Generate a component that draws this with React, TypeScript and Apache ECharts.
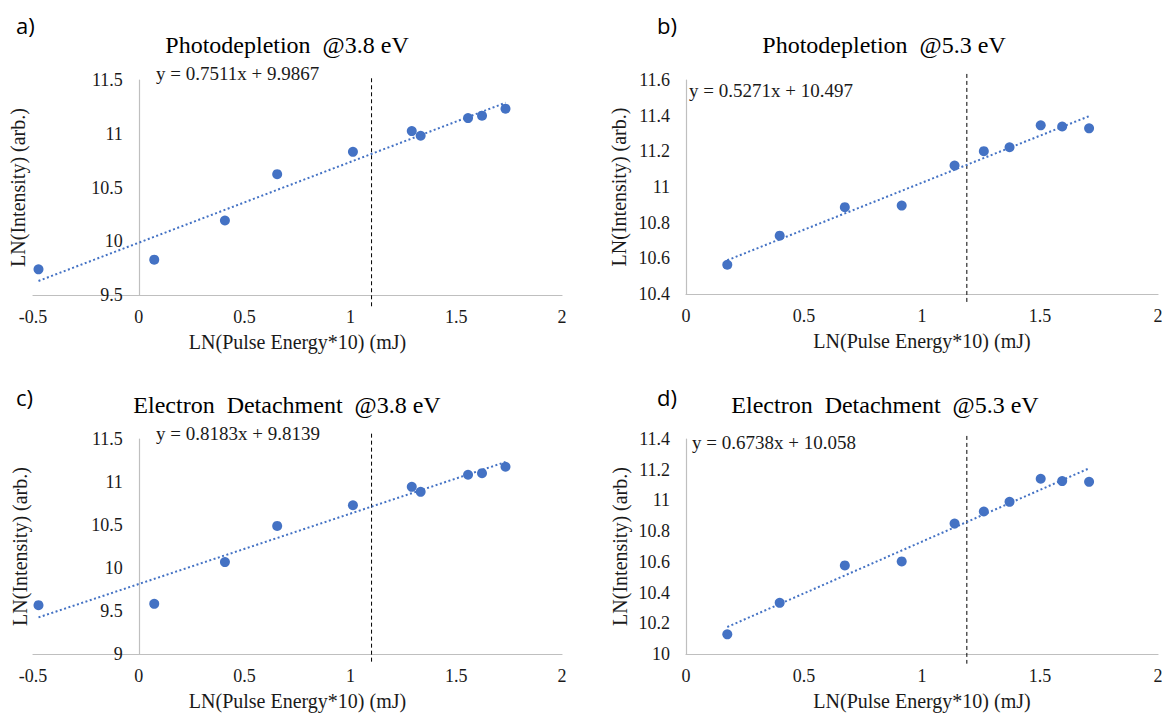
import React, { useEffect, useRef } from "react";
import * as echarts from "echarts";

// ---- data ----
const panelLetters = ["a)", "b)", "c)", "d)"];
const panelTitles = [
  "Photodepletion  @3.8 eV",
  "Photodepletion  @5.3 eV",
  "Electron  Detachment  @3.8 eV",
  "Electron  Detachment  @5.3 eV",
];
const xLabelName = "LN(Pulse Energy*10) (mJ)";
const yLabelName = "LN(Intensity) (arb.)";

const energy38 = [-0.474, 0.073, 0.407, 0.654, 1.012, 1.29, 1.332, 1.556, 1.622, 1.733];
const energy53 = [0.175, 0.397, 0.673, 0.914, 1.138, 1.262, 1.371, 1.503, 1.594, 1.708];

const intensityA = [9.739, 9.829, 10.193, 10.624, 10.832, 11.025, 10.981, 11.146, 11.168, 11.233];
const intensityB = [10.564, 10.727, 10.887, 10.896, 11.12, 11.201, 11.223, 11.346, 11.339, 11.329];
const intensityC = [9.568, 9.583, 10.069, 10.489, 10.73, 10.944, 10.886, 11.084, 11.103, 11.177];
const intensityD = [10.128, 10.333, 10.577, 10.603, 10.849, 10.928, 10.991, 11.141, 11.126, 11.121];

const fitSlopes = [0.7511, 0.5271, 0.8183, 0.6738];
const fitIntercepts = [9.9867, 10.497, 9.8139, 10.058];
const fitLabels = [
  "y = 0.7511x + 9.9867",
  "y = 0.5271x + 10.497",
  "y = 0.8183x + 9.8139",
  "y = 0.6738x + 10.058",
];

const cutoffX = [1.1, 1.19, 1.1, 1.19];
const cutoffTop = [11.516, 11.634, 11.562, 11.42];
const cutoffBottom = [9.39, 10.34, 8.887, 9.937];

const xMins = [-0.5, 0, -0.5, 0];
const xMaxs = [2, 2, 2, 2];
const xIntervals = [0.5, 0.5, 0.5, 0.5];
const yMins = [9.5, 10.4, 9, 10];
const yMaxs = [11.5, 11.6, 11.5, 11.4];
const yIntervals = [0.5, 0.2, 0.5, 0.2];

// ---- layout ----
const grids = [
  { left: 33, top: 80, width: 529, height: 215 },
  { left: 686, top: 80, width: 472, height: 214 },
  { left: 33, top: 439, width: 529, height: 215 },
  { left: 686, top: 439, width: 472, height: 215 },
];
const letterPos = [
  [16, 25],
  [657, 25],
  [16, 397],
  [657, 397],
];
const titlePos = [
  [287, 45],
  [884, 45],
  [287, 405],
  [885, 405],
];
const eqPos = [
  [156, 73],
  [689, 90],
  [156, 433],
  [692, 442],
];
const yNameCenterX = [18, 619, 20, 620];

const SERIF = "Liberation Serif";
const BLUE = "#4472C4";
const TEXT = "#1a1a1a";

export default function App() {
  const ref = useRef<HTMLDivElement>(null);

  useEffect(() => {
    if (!ref.current) return;
    const chart = echarts.init(ref.current, undefined, { renderer: "svg" });

    const xs = [energy38, energy53, energy38, energy53];
    const ys = [intensityA, intensityB, intensityC, intensityD];

    const gridOpts: any[] = grids.map((g) => ({ ...g, containLabel: false, outerBoundsMode: "none" }));
    const xAxes: any[] = [];
    const yAxes: any[] = [];
    const series: any[] = [];
    const graphics: any[] = [];
    const mainX: number[] = [];
    const mainY: number[] = [];

    const labelStyle = { fontFamily: SERIF, fontSize: 18, color: TEXT };
    const nameStyle = { fontFamily: SERIF, fontSize: 20, color: TEXT };
    const axisLineStyle = { color: "#bfbfbf", width: 1.2 };

    for (let i = 0; i < 4; i++) {
      const g = grids[i];
      // where x = 0 sits inside the plot (the vertical axis crosses there)
      const zeroFrac = (0 - xMins[i]) / (xMaxs[i] - xMins[i]);
      const crossesInside = zeroFrac > 0;

      mainX[i] = xAxes.length;
      xAxes.push({
        type: "value",
        gridIndex: i,
        min: xMins[i],
        max: xMaxs[i],
        interval: xIntervals[i],
        name: xLabelName,
        nameLocation: "middle",
        nameGap: 37,
        nameTextStyle: nameStyle,
        axisLine: { show: true, onZero: false, lineStyle: axisLineStyle },
        axisTick: { show: false },
        splitLine: { show: false },
        axisLabel: { ...labelStyle, margin: 13 },
      });

      const visibleY = {
        type: "value",
        min: yMins[i],
        max: yMaxs[i],
        interval: yIntervals[i],
        name: yLabelName,
        nameLocation: "middle",
        nameTextStyle: nameStyle,
        axisLine: { show: true, onZero: false, lineStyle: axisLineStyle },
        axisTick: { show: false },
        splitLine: { show: false },
        axisLabel: { ...labelStyle, margin: 16 },
      };

      if (crossesInside) {
        mainY[i] = yAxes.length;
        yAxes.push({
          type: "value",
          gridIndex: i,
          min: yMins[i],
          max: yMaxs[i],
          interval: yIntervals[i],
          axisLine: { show: false },
          axisTick: { show: false },
          splitLine: { show: false },
          axisLabel: { show: false },
        });
        // overlay grid starting at x = 0, holding the visible vertical axis
        const ovLeft = g.left + zeroFrac * g.width;
        gridOpts.push({
          left: ovLeft,
          top: g.top,
          width: g.left + g.width - ovLeft,
          height: g.height,
          containLabel: false,
          outerBoundsMode: "none",
        });
        const ovIndex = gridOpts.length - 1;
        xAxes.push({ type: "value", gridIndex: ovIndex, min: 0, max: xMaxs[i], show: false });
        yAxes.push({ ...visibleY, gridIndex: ovIndex, nameGap: ovLeft - yNameCenterX[i] - 10 });
      } else {
        mainY[i] = yAxes.length;
        yAxes.push({ ...visibleY, gridIndex: i, nameGap: g.left - yNameCenterX[i] - 10 });
      }
    }

    for (let i = 0; i < 4; i++) {
      const pts = xs[i].map((x, k) => [x, ys[i][k]]);
      const x0 = Math.min(...xs[i]);
      const x1 = Math.max(...xs[i]);
      series.push({
        type: "scatter",
        xAxisIndex: mainX[i],
        yAxisIndex: mainY[i],
        data: pts,
        symbol: "circle",
        symbolSize: 10,
        itemStyle: { color: BLUE, opacity: 1 },
        z: 3,
      });
      series.push({
        type: "line",
        xAxisIndex: mainX[i],
        yAxisIndex: mainY[i],
        data: [
          [x0, fitSlopes[i] * x0 + fitIntercepts[i]],
          [x1, fitSlopes[i] * x1 + fitIntercepts[i]],
        ],
        symbol: "none",
        lineStyle: { color: BLUE, width: 2, type: [2, 2.5] },
        z: 4,
      });
      series.push({
        type: "line",
        xAxisIndex: mainX[i],
        yAxisIndex: mainY[i],
        clip: false,
        data: [
          [cutoffX[i], cutoffTop[i]],
          [cutoffX[i], cutoffBottom[i]],
        ],
        symbol: "none",
        lineStyle: { color: "#000", width: 1, type: [4, 3] },
        z: 2,
      });

      graphics.push({
        type: "text",
        x: letterPos[i][0],
        y: letterPos[i][1],
        style: {
          text: panelLetters[i],
          fontFamily: "Open Sans",
          fontSize: 22,
          fill: "#000",
          align: "left",
          verticalAlign: "middle",
        },
      });
      graphics.push({
        type: "text",
        x: titlePos[i][0],
        y: titlePos[i][1],
        style: {
          text: panelTitles[i],
          fontFamily: SERIF,
          fontSize: 24,
          fill: "#000",
          align: "center",
          verticalAlign: "middle",
        },
      });
      graphics.push({
        type: "text",
        x: eqPos[i][0],
        y: eqPos[i][1],
        style: {
          text: fitLabels[i],
          fontFamily: SERIF,
          fontSize: 19,
          fill: TEXT,
          align: "left",
          verticalAlign: "middle",
        },
      });
    }

    chart.setOption({
      animation: false,
      backgroundColor: "#ffffff",
      grid: gridOpts,
      xAxis: xAxes,
      yAxis: yAxes,
      series,
      graphic: graphics,
    });

    return () => chart.dispose();
  }, []);

  return (
    <div
      ref={ref}
      style={{ position: "fixed", left: 0, top: 0, width: 1169, height: 717, background: "#fff" }}
    />
  );
}
